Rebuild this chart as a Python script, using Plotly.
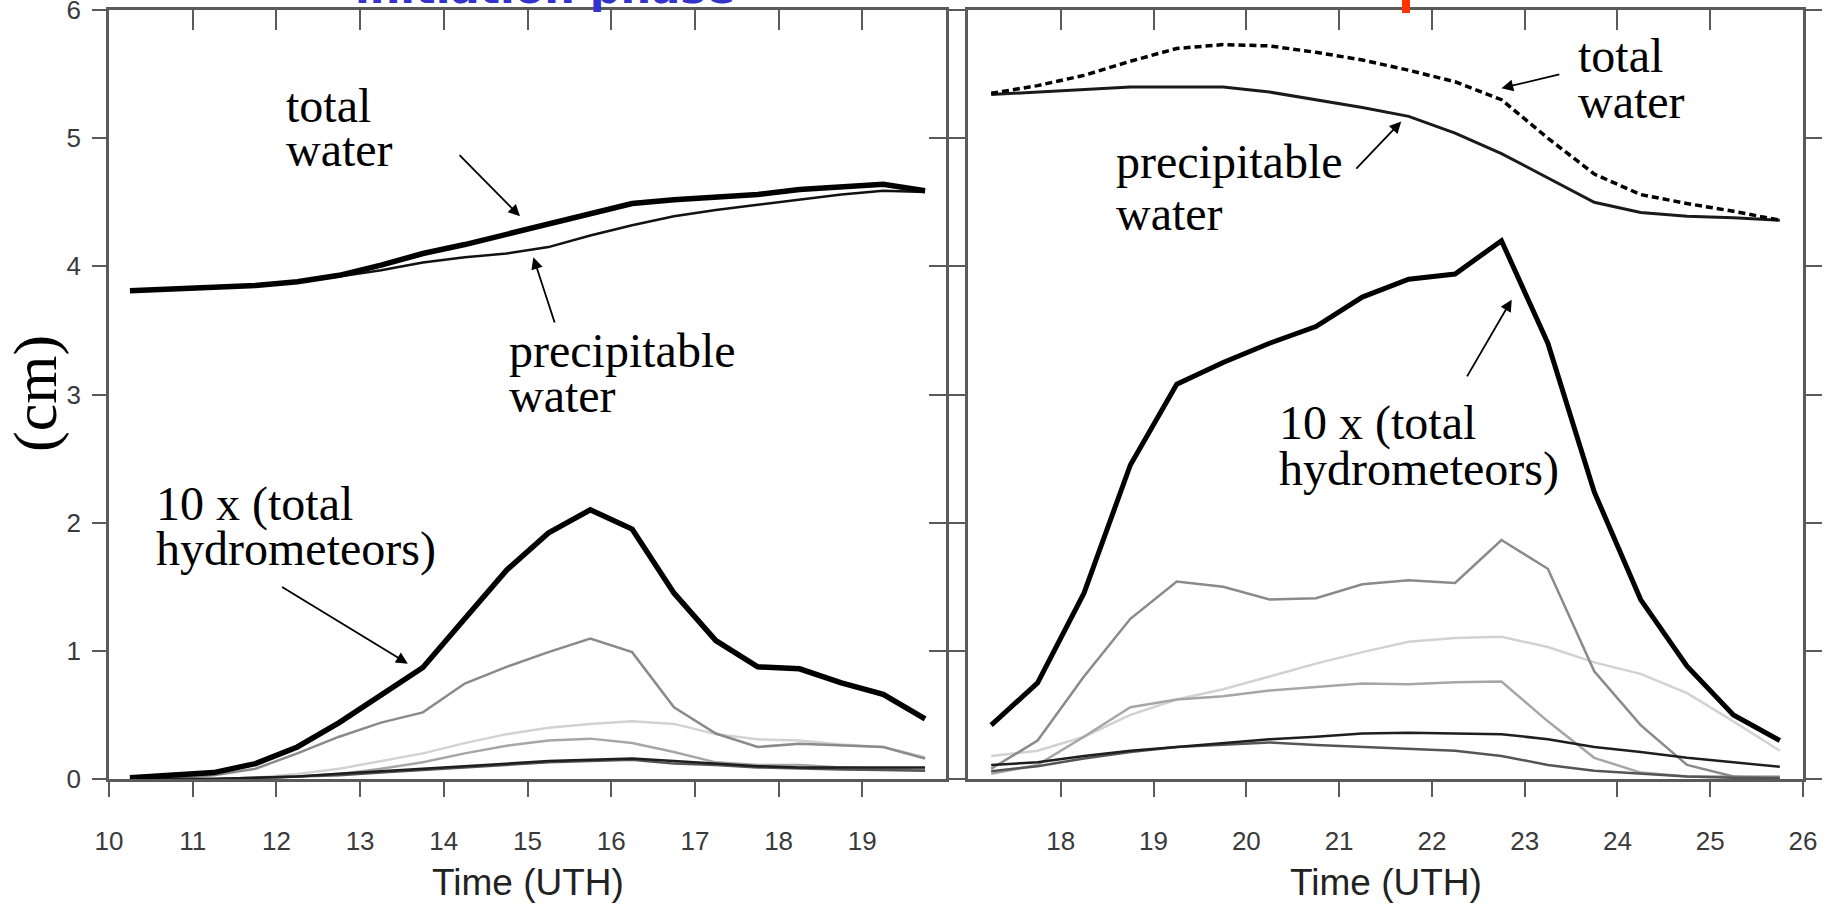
import plotly.graph_objects as go

# ---------------- data ----------------
# Left panel (initiation phase)
time_left = [10.25, 10.75, 11.25, 11.75, 12.25, 12.75, 13.25, 13.75, 14.25, 14.75,
             15.25, 15.75, 16.25, 16.75, 17.25, 17.75, 18.25, 18.75, 19.25, 19.75]
total_water_left = [3.81, 3.82, 3.83, 3.85, 3.88, 3.93, 4.01, 4.10, 4.17, 4.25,
                    4.33, 4.42, 4.49, 4.52, 4.54, 4.56, 4.60, 4.62, 4.64, 4.59]
precip_water_left = [3.81, 3.82, 3.83, 3.85, 3.88, 3.92, 3.97, 4.03, 4.07, 4.10,
                     4.15, 4.24, 4.32, 4.39, 4.44, 4.48, 4.52, 4.56, 4.59, 4.58]
hydro_total_left = [0.01, 0.03, 0.05, 0.12, 0.25, 0.44, 0.66, 0.87, 1.25, 1.63,
                    1.92, 2.10, 1.95, 1.45, 1.08, 0.875, 0.86, 0.75, 0.66, 0.47]
hydro_gray_left = [0.00, 0.01, 0.03, 0.08, 0.20, 0.33, 0.44, 0.52, 0.745, 0.875,
                   0.99, 1.095, 0.99, 0.56, 0.355, 0.25, 0.275, 0.26, 0.25, 0.16]
hydro_light_left = [0.00, 0.00, 0.00, 0.01, 0.04, 0.08, 0.14, 0.20, 0.28, 0.35,
                    0.40, 0.43, 0.45, 0.43, 0.35, 0.31, 0.30, 0.27, 0.25, 0.17]
hydro_mid_left = [0.00, 0.00, 0.00, 0.00, 0.02, 0.04, 0.08, 0.13, 0.20, 0.26,
                  0.30, 0.315, 0.28, 0.21, 0.13, 0.11, 0.11, 0.09, 0.08, 0.07]
hydro_dark_left = [0.00, 0.00, 0.00, 0.01, 0.02, 0.04, 0.06, 0.08, 0.10, 0.12,
                   0.14, 0.15, 0.16, 0.14, 0.12, 0.10, 0.09, 0.09, 0.09, 0.09]
hydro_dark2_left = [0.00, 0.00, 0.00, 0.01, 0.02, 0.03, 0.05, 0.07, 0.09, 0.11,
                    0.13, 0.14, 0.15, 0.12, 0.11, 0.09, 0.08, 0.075, 0.07, 0.065]

# Right panel
time_right = [17.25, 17.75, 18.25, 18.75, 19.25, 19.75, 20.25, 20.75, 21.25,
              21.75, 22.25, 22.75, 23.25, 23.75, 24.25, 24.75, 25.25, 25.75]
total_water_right = [5.35, 5.41, 5.49, 5.60, 5.70, 5.73, 5.72, 5.67, 5.61,
                     5.53, 5.44, 5.30, 5.00, 4.72, 4.56, 4.49, 4.43, 4.36]
precip_water_right = [5.34, 5.36, 5.38, 5.40, 5.40, 5.40, 5.36, 5.30, 5.24,
                      5.17, 5.04, 4.88, 4.69, 4.50, 4.42, 4.39, 4.38, 4.36]
hydro_total_right = [0.42, 0.75, 1.45, 2.45, 3.08, 3.25, 3.40, 3.53, 3.76,
                     3.90, 3.94, 4.20, 3.40, 2.24, 1.40, 0.88, 0.50, 0.30]
hydro_gray_right = [0.08, 0.30, 0.80, 1.25, 1.54, 1.50, 1.40, 1.41, 1.52,
                    1.55, 1.53, 1.865, 1.64, 0.84, 0.42, 0.11, 0.02, 0.00]
hydro_light_right = [0.18, 0.22, 0.33, 0.50, 0.62, 0.70, 0.80, 0.90, 0.99,
                     1.07, 1.10, 1.11, 1.03, 0.91, 0.82, 0.67, 0.45, 0.22]
hydro_mid_right = [0.04, 0.11, 0.33, 0.56, 0.62, 0.645, 0.69, 0.72, 0.745,
                   0.74, 0.755, 0.76, 0.45, 0.165, 0.05, 0.02, 0.02, 0.02]
hydro_dark_right = [0.11, 0.13, 0.18, 0.22, 0.25, 0.28, 0.31, 0.33, 0.355,
                    0.36, 0.355, 0.35, 0.31, 0.25, 0.21, 0.165, 0.13, 0.095]
hydro_dark2_right = [0.06, 0.10, 0.16, 0.21, 0.25, 0.27, 0.285, 0.265, 0.25,
                     0.235, 0.22, 0.18, 0.11, 0.065, 0.04, 0.02, 0.01, 0.01]

left_xticks = [10, 11, 12, 13, 14, 15, 16, 17, 18, 19]
right_xticks = [18, 19, 20, 21, 22, 23, 24, 25, 26]
yticks = [0, 1, 2, 3, 4, 5, 6]

# ---------------- figure ----------------
W, H = 1825, 905
ML, MR, MT, MB = 109, 22, 10, 126
PW = W - ML - MR
PH = H - MT - MB

def px_x(x):
    return (x - ML) / PW

def px_y(y):
    return (H - MB - y) / PH

fig = go.Figure()

def add(x, y, color, width, xa, ya, dash=None):
    fig.add_trace(go.Scatter(x=x, y=y, mode="lines", xaxis=xa, yaxis=ya,
                             line=dict(color=color, width=width, dash=dash),
                             showlegend=False, hoverinfo="skip"))

# left panel (draw light first)
add(time_left, hydro_light_left, "#d2d2d2", 2.5, "x", "y")
add(time_left, hydro_mid_left, "#a6a6a6", 2.5, "x", "y")
add(time_left, hydro_gray_left, "#8a8a8a", 2.5, "x", "y")
add(time_left, hydro_dark2_left, "#555555", 2.5, "x", "y")
add(time_left, hydro_dark_left, "#1e1e1e", 2.5, "x", "y")
add(time_left, hydro_total_left, "#000000", 5.5, "x", "y")
add(time_left, precip_water_left, "#111111", 2.5, "x", "y")
add(time_left, total_water_left, "#000000", 5.5, "x", "y")

# right panel
add(time_right, hydro_light_right, "#d2d2d2", 2.5, "x2", "y2")
add(time_right, hydro_mid_right, "#a6a6a6", 2.5, "x2", "y2")
add(time_right, hydro_gray_right, "#8a8a8a", 2.5, "x2", "y2")
add(time_right, hydro_dark2_right, "#555555", 2.5, "x2", "y2")
add(time_right, hydro_dark_right, "#1e1e1e", 2.5, "x2", "y2")
add(time_right, hydro_total_right, "#000000", 5, "x2", "y2")
add(time_right, precip_water_right, "#1a1a1a", 3, "x2", "y2")
add(time_right, total_water_right, "#000000", 3.5, "x2", "y2", dash="7px,4px")

# dummy traces so the overlay axes are drawn
fig.add_trace(go.Scatter(x=[None], y=[None], xaxis="x3", yaxis="y", showlegend=False, hoverinfo="skip"))
fig.add_trace(go.Scatter(x=[None], y=[None], xaxis="x", yaxis="y3", showlegend=False, hoverinfo="skip"))
fig.add_trace(go.Scatter(x=[None], y=[None], xaxis="x4", yaxis="y2", showlegend=False, hoverinfo="skip"))

dom_l = [0, px_x(946)]
dom_r = [px_x(968), 1]

tickfont = dict(family="Liberation Sans Narrow, Liberation Sans, Arial", size=26, color="#3a3a3a")
axcol = "#5a5a5a"
common = dict(showgrid=False, zeroline=False, showline=True, linecolor=axcol, linewidth=2.5,
              tickcolor=axcol, tickwidth=2, tickfont=tickfont, automargin=False)
overlay = dict(showticklabels=False, showgrid=False, zeroline=False, showline=False,
               tickcolor=axcol, tickwidth=2, automargin=False)

fig.update_layout(
    width=W, height=H,
    margin=dict(l=ML, r=MR, t=MT, b=MB, autoexpand=False),
    paper_bgcolor="white", plot_bgcolor="white",
    showlegend=False,
    xaxis=dict(domain=dom_l, range=[10, 20], tickvals=left_xticks, ticks="outside", ticklen=15,
               anchor="y", mirror=True, ticklabelstandoff=22, **common),
    xaxis3=dict(overlaying="x", side="top", range=[10, 20], tickvals=left_xticks, ticks="inside",
                ticklen=20, anchor="y", **overlay),
    yaxis=dict(domain=[0, 1], range=[0, 6], tickvals=yticks, ticks="outside", ticklen=14,
               anchor="x", mirror=True, ticklabelstandoff=6, ticklabeloverflow="allow", **common),
    yaxis3=dict(overlaying="y", side="right", range=[0, 6], tickvals=yticks, ticks="inside",
                ticklen=17, anchor="x", **overlay),
    xaxis2=dict(domain=dom_r, range=[17, 26], tickvals=right_xticks, ticks="outside", ticklen=15,
                anchor="y2", mirror=True, ticklabelstandoff=22, ticklabeloverflow="allow", **common),
    xaxis4=dict(overlaying="x2", side="top", range=[17, 26], tickvals=right_xticks, ticks="inside",
                ticklen=20, anchor="y2", **overlay),
    yaxis2=dict(domain=[0, 1], range=[0, 6], tickvals=yticks, ticks="outside", ticklen=16,
                anchor="x2", mirror="ticks", showticklabels=False, **common),
)

serif = dict(family="Liberation Serif, Times New Roman, serif", size=48, color="#000000")
ann = []

def label(text, x, y, xr, yr):
    # y is the text baseline (data units)
    ann.append(dict(text=text, x=x, y=y, xref=xr, yref=yr, xanchor="left", yanchor="bottom",
                    yshift=-12, xshift=-3, showarrow=False, font=serif))

def arrow(x_head, y_head, x_tail, y_tail, xr, yr):
    ann.append(dict(text="", x=x_head, y=y_head, ax=x_tail, ay=y_tail, xref=xr, yref=yr,
                    axref=xr, ayref=yr, showarrow=True, arrowhead=2, arrowsize=1.3,
                    arrowwidth=1.8, arrowcolor="#000000"))

# left panel labels
label("total", 12.13, 5.13, "x", "y")
label("water", 12.13, 4.78, "x", "y")
label("precipitable", 14.79, 3.215, "x", "y")
label("water", 14.79, 2.865, "x", "y")
label("10 x (total", 10.57, 2.015, "x", "y")
label("hydrometeors)", 10.57, 1.66, "x", "y")
arrow(14.91, 4.39, 14.17, 4.88, "x", "y")
arrow(15.07, 4.07, 15.33, 3.55, "x", "y")
arrow(13.57, 0.90, 12.05, 1.505, "x", "y")

# right panel labels
label("total", 23.59, 5.52, "x2", "y2")
label("water", 23.59, 5.16, "x2", "y2")
label("precipitable", 18.61, 4.69, "x2", "y2")
label("water", 18.61, 4.28, "x2", "y2")
label("10 x (total", 20.36, 2.645, "x2", "y2")
label("hydrometeors)", 20.36, 2.29, "x2", "y2")
arrow(22.75, 5.39, 23.39, 5.50, "x2", "y2")
arrow(21.67, 5.13, 21.17, 4.75, "x2", "y2")
arrow(22.86, 3.74, 22.37, 3.13, "x2", "y2")

# axis titles
title_font = dict(family="Liberation Sans Narrow, Liberation Sans, Arial", size=37, color="#222222")
ann.append(dict(text="Time (UTH)", x=0.5, xref="x domain", y=px_y(882), yref="paper",
                xanchor="center", yanchor="middle", showarrow=False, font=title_font))
ann.append(dict(text="Time (UTH)", x=0.5, xref="x2 domain", y=px_y(882), yref="paper",
                xanchor="center", yanchor="middle", showarrow=False, font=title_font))
ann.append(dict(text="(cm)", x=px_x(36), xref="paper", y=px_y(394), yref="paper",
                xanchor="center", yanchor="middle", textangle=-90, showarrow=False,
                font=dict(family="Liberation Serif, Times New Roman, serif", size=62, color="#000000")))

# cut-off slide titles at the very top
ann.append(dict(text="<b>initiation phase</b>", x=px_x(545), xref="paper", y=px_y(15), yref="paper",
                xanchor="center", yanchor="bottom", showarrow=False,
                font=dict(family="DejaVu Sans, Verdana, sans-serif", size=43, color="#3333cc")))
ann.append(dict(text="<b>mature phase</b>", x=px_x(1023), xref="paper", y=px_y(3), yref="paper",
                xanchor="left", yanchor="bottom", showarrow=False,
                font=dict(family="DejaVu Sans, Verdana, sans-serif", size=42, color="#ff3300")))

fig.update_layout(annotations=ann)
fig.add_shape(type="line", xref="paper", yref="paper", x0=px_x(1406), x1=px_x(1406),
              y0=px_y(-2), y1=px_y(13), line=dict(color="#ff3300", width=8))

fig.write_html("out.html", config={"displayModeBar": False},
               post_script="document.body.style.margin='0px';")
